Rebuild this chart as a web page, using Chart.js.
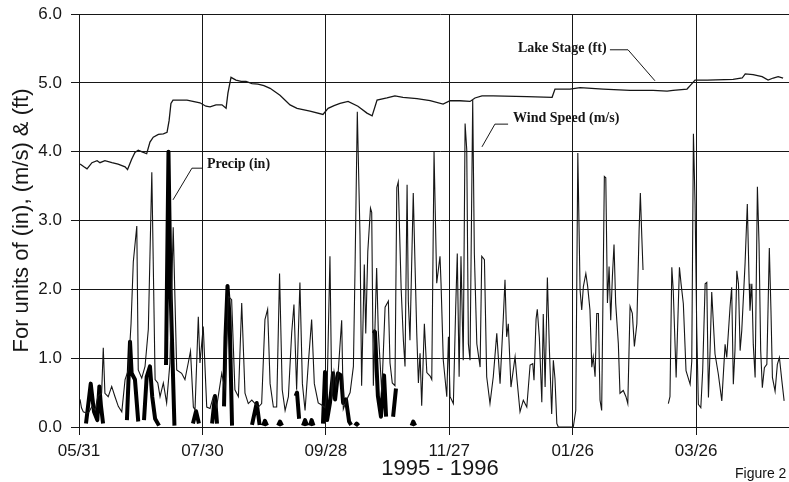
<!DOCTYPE html>
<html>
<head>
<meta charset="utf-8">
<script src="https://cdn.jsdelivr.net/npm/chart.js@4.4.1/dist/chart.umd.min.js"></script>
<style>
  html, body { margin: 0; padding: 0; background: #fff; overflow: hidden; }
  #wrap { position: relative; width: 789px; height: 482px; overflow: hidden; }
  #chart { display: block; }
  #fig { position: absolute; left: 735px; top: 465px; font: 14px "Liberation Sans", Arial, sans-serif; color: #111; white-space: nowrap; }
</style>
</head>
<body>
<div id="wrap">
  <canvas id="chart" width="801" height="482"></canvas>
  <div id="fig">Figure 2</div>
</div>
<script>
// days after 05/31/1995
var tickDays = [0, 60, 120, 180, 240, 300];
var tickLabels = ["05/31", "07/30", "09/28", "11/27", "01/26", "03/26"];

// wind speed (m/s), null = missing record
var windDay = [
  0.5, 1.2, 2.1, 3.7, 4.9, 6.3, 7.8, 9.2, 11.0, 11.8,
  12.6, 14.2, 15.9, 17.5, 19.1, 20.8, 22.4, 24.0, 25.3, 26.4,
  28.1, 28.8, 30.5, 32.1, 33.7, 35.4, 37.0, 38.3, 39.4, 41.0,
  42.6, 44.2, 45.8, 47.5, 49.9, 51.5, 53.1, 54.2, 55.6, 56.4,
  58.0, 58.8, 60.4, 62.1, 63.7, 65.3, 66.9, 69.4, 71.0, 72.6,
  74.2, 75.8, 77.5, 79.1, 80.7, 82.3, 84.0, 85.6, 87.2, 88.8,
  90.4, 91.7, 92.9, 94.5, 96.1, 97.5, 98.8, 100.2, 101.8, 103.4,
  104.5, 105.8, 107.4, 108.6, 109.9, 111.5, 113.1, 114.4, 116.3, 118.0,
  119.6, 120.6, 122.0, 122.9, 124.0, 125.0, 125.9, 127.7, 128.5, 130.2,
  131.8, 133.4, 134.2, 135.3, 136.6, 137.4, 138.7, 139.4, 140.4, 141.7,
  142.3, 143.1, 144.7, 145.5, 147.2, 148.8, 150.4, 151.2, 152.3, 153.6,
  154.5, 155.2, 156.6, 157.7, 158.5, 159.5, 160.1, 160.9, 162.5, 163.4,
  164.2, 165.0, 165.8, 166.6, 167.9, 169.1, 170.7, 171.5, 172.6, 173.9,
  175.5, 176.0, 177.1, 178.8, 179.6, 180.4, 182.0, 183.1, 183.9, 184.8,
  185.7, 186.8, 187.7, 188.5, 189.3, 190.1, 191.4, 192.2, 193.4, 195.0,
  195.8, 197.1, 198.2, 199.8, 201.4, 203.1, 204.7, 206.3, 207.1, 207.9,
  208.7, 210.0, 212.0, 212.8, 214.4, 216.0, 217.7, 219.3, 220.6, 221.2,
  222.2, 222.8, 223.8, 225.0, 225.7, 226.6, 227.7, 228.7, 229.8, 230.6,
  231.4, 232.3, 233.0, 240.3, 241.5, 242.5, 243.6, 244.4, 245.2, 246.4,
  247.3, 248.4, 249.3, 250.0, 250.9, 251.7, 252.5, 253.3, 254.1, 255.4,
  256.1, 256.9, 257.7, 258.5, 259.3, 260.1, 260.9, 262.2, 263.0, 264.6,
  265.9, 266.8, 267.9, 269.0, 270.0, 271.2, 272.3, 272.9, 273.6, 274.2,
  280.0, 286.5, 287.3, 288.2, 288.9, 290.3, 291.9, 292.7, 293.8, 295.1,
  297.1, 297.9, 298.7, 299.5, 300.3, 301.1, 302.3, 303.2, 304.4, 305.2,
  306.0, 306.8, 307.6, 309.2, 310.8, 312.5, 314.1, 314.9, 316.5, 317.3,
  318.1, 318.9, 319.8, 320.6, 321.4, 322.2, 323.8, 324.9, 325.8, 326.2,
  327.1, 327.8, 328.7, 329.8, 330.6, 331.4, 332.2, 333.2, 334.4, 335.6,
  336.4, 337.1, 338.4, 339.5, 340.5, 341.7, 342.8
];
var windMs = [
  0.4, 0.28, 0.22, 0.2, 0.22, 0.3, 0.25, 0.45, 0.49, 1.15,
  0.49, 0.44, 0.59, 0.44, 0.3, 0.22, 0.69, 0.83, 1.5, 2.4,
  2.92, 0.83, 0.71, 0.88, 1.42, 3.7, 0.69, 0.64, 0.44, 0.64,
  0.35, 0.93, 2.9, 0.83, 0.78, 0.69, 0.93, 1.1, 0.29, 0.25,
  1.6, 0.93, 1.46, 0.29, 0.27, 0.44, 0.29, 0.78, 0.54, 1.9,
  1.85, 0.54, 0.44, 1.8, 0.49, 0.34, 0.39, 0.34, 0.29, 0.34,
  1.56, 1.71, 0.63, 0.29, 0.29, 2.23, 0.54, 0.24, 0.44, 1.37,
  1.78, 0.54, 2.1, 0.63, 0.24, 0.93, 1.56, 0.63, 0.35, 0.32,
  0.28, 0.5, 2.48, 0.4, 0.8, 0.6, 0.75, 1.55, 0.26, 0.4,
  0.5, 0.88, 2.31, 4.58, 2.79, 0.6, 2.36, 1.36, 2.55, 3.18,
  3.12, 0.6, 2.31, 1.4, 0.5, 1.74, 1.83, 0.93, 0.64, 0.6,
  3.48, 3.56, 2.02, 1.26, 0.88, 3.52, 1.83, 1.26, 3.4, 2.31,
  1.36, 0.64, 1.07, 0.31, 1.5, 0.79, 0.74, 0.69, 4.0, 2.09,
  2.48, 2.09, 0.97, 0.44, 1.31, 0.44, 0.34, 1.7, 2.52, 0.73,
  2.48, 0.97, 4.41, 4.03, 1.21, 0.97, 4.75, 2.52, 1.21, 0.87,
  2.48, 2.43, 0.73, 0.34, 0.73, 1.36, 0.63, 1.6, 2.14, 1.31,
  1.5, 0.58, 1.02, 0.73, 0.22, 0.39, 0.29, 0.9, 0.92, 0.68,
  1.57, 1.71, 1.3, 0.36, 1.64, 0.58, 2.17, 1.11, 0.19, 0.97,
  0.7, 0.05, 0, 0, 0.24, 3.98, 1.99, 1.7, 2.04, 2.23,
  2.04, 1.7, 0.87, 1.02, 0.73, 1.65, 1.65, 0.39, 0.24, 3.64,
  3.62, 1.8, 2.33, 1.55, 2.18, 2.65, 1.8, 1.21, 0.49, 0.53,
  0.44, 0.34, 1.75, 1.65, 1.17, 1.5, 2.86, 3.4, 2.77, 2.28,
  null, 0.34, 0.44, 2.32, 1.98, 0.72, 2.32, 2.08, 1.79, 0.82,
  0.62, 0.96, 4.26, 3.24, 1.45, 0.33, 0.28, 0.82, 2.08, 2.1,
  0.43, 1.11, 1.96, 1.06, 0.77, 0.38, 1.2, 1.01, 1.74, 2.03,
  0.62, 1.11, 2.27, 2.08, 1.11, 1.4, 2.37, 3.24, 2.08, 1.69,
  2.08, 1.2, 0.72, 3.49, 2.66, 1.11, 0.57, 0.86, 0.91, 2.6,
  1.69, 0.72, 0.52, 0.91, 1.01, 0.67, 0.38
];

// lake stage (ft)
var lakeDay = [
  0.5, 2.4, 3.9, 6.3, 8.8, 10.2, 12.6, 16.0, 19.0, 22.4,
  23.6, 25.6, 27.2, 28.8, 31.3, 32.9, 34.5, 36.1, 38.6, 41.0,
  42.8, 43.8, 44.7, 45.7, 52.5, 58.8, 61.7, 63.7, 66.6, 69.5,
  71.5, 72.4, 73.9, 76.3, 78.8, 81.2, 84.1, 87.0, 89.9, 92.9,
  97.7, 102.6, 106.0, 112.3, 118.6, 121.1, 124.0, 126.9, 130.8, 135.6,
  140.0, 142.5, 144.9, 149.7, 153.6, 157.5, 164.3, 170.7, 177.0, 180.4,
  185.2, 190.1, 192.5, 195.9, 201.3, 217.8, 230.0, 231.4, 238.7, 243.6,
  254.8, 267.9, 279.1, 285.9, 288.8, 295.6, 297.1, 299.5, 305.4, 318.0,
  322.4, 323.9, 327.7, 332.1, 335.0, 337.5, 339.9, 342.3
];
var lakeFt = [
  3.82, 3.78, 3.75, 3.84, 3.87, 3.84, 3.87, 3.84, 3.82, 3.78,
  3.74, 3.89, 3.99, 4.02, 3.99, 3.97, 4.14, 4.21, 4.25, 4.26,
  4.28, 4.45, 4.7, 4.75, 4.75, 4.71, 4.66, 4.65, 4.68, 4.68,
  4.63, 4.85, 5.08, 5.04, 5.02, 5.02, 4.99, 4.98, 4.96, 4.92,
  4.82, 4.68, 4.63, 4.59, 4.54, 4.63, 4.67, 4.7, 4.73, 4.66,
  4.56, 4.52, 4.75, 4.78, 4.81, 4.79, 4.77, 4.74, 4.69, 4.74,
  4.74, 4.73, 4.78, 4.81, 4.81, 4.8, 4.79, 4.91, 4.91, 4.93,
  4.91, 4.89, 4.89, 4.88, 4.89, 4.91, 4.96, 5.04, 5.04, 5.05,
  5.07, 5.13, 5.12, 5.09, 5.04, 5.07, 5.09, 5.07
];

// precipitation (in), null separates rain events
var precipDay = [
  3.4, 4.4, 5.7, 7.3, 8.9, 9.9, 10.7, 11.7, 17,
  23.3, 24.8, 25.6, 27.2, 28.8, 30,
  31.6, 32.9, 34.5, 35.6, 37.0, 38.9, 40,
  42.3, 43.5, 44.5, 46.4, 50,
  55.4, 56.9, 58.3, 60,
  64.7, 66.1, 67.1, 69,
  70.5, 71.2, 72.2, 73.2, 74.4, 80,
  84.1, 86.4, 87.8, 88.7,
  89.5, 90.4, 91.4, 94,
  96.8, 97.7, 98.7, 102,
  105.3, 106.0, 107.0, 108,
  108.9, 109.9, 110.9, 111.6,
  112.3, 113.1, 114.0, 116,
  118.6, 119.6, 120.6, 122.0, 123.5, 124.5, 125.9, 127.4, 128.4, 129.8, 131.3, 132.3, 133,
  134.2, 135.0, 135.9, 140,
  142.9, 143.9, 145.3, 146.8, 148.3, 149.3, 151,
  152.7, 154.1, 158,
  161.7, 162.5, 163.4
];
var precipIn = [
  0.05, 0.3, 0.63, 0.22, 0.1, 0.59, 0.3, 0.05, null,
  0.1, 1.24, 0.78, 0.69, 0.08, null,
  0.1, 0.73, 0.88, 0.44, 0.12, 0.02, null,
  0.9, 4.0, 2.0, 0.02, null,
  0.05, 0.23, 0.05, null,
  0.05, 0.45, 0.05, null,
  0.3, 1.3, 2.05, 1.6, 0.02, null,
  0.03, 0.35, 0.03, null,
  0.02, 0.09, 0.02, null,
  0.02, 0.08, 0.02, null,
  0.45, 0.5, 0.12, null,
  0.02, 0.1, 0.02, null,
  0.02, 0.1, 0.02, null,
  0.05, 0.8, 0.1, 0.35, 0.78, 0.4, 0.78, 0.75, 0.35, 0.4, 0.08, 0.03, null,
  0.02, 0.05, 0.02, null,
  1.4, 1.38, 0.45, 0.15, 0.75, 0.15, null,
  0.15, 0.56, null,
  0.02, 0.08, 0.02
];

// callout labels: text start and leader line, in data units (day, value)
var callouts = [
  { text: "Lake Stage (ft)", at: [213.4, 5.5], leader: [[258.1, 5.48], [266.9, 5.48], [280, 5.03]] },
  { text: "Wind Speed (m/s)", at: [211, 4.49], leader: [[208.6, 4.4], [202.2, 4.4], [195.9, 4.07]] },
  { text: "Precip (in)", at: [62.2, 3.82], leader: [[59.8, 3.76], [54.9, 3.76], [45.7, 3.3]] }
];

function toPoints(days, vals) {
  return days.map(function (d, i) { return { x: d, y: vals[i] }; });
}

var ink = "#161616";
var sansFont = "'Liberation Sans', Arial, sans-serif";

// draws the text callouts with their leader lines
var calloutPlugin = {
  id: "callouts",
  afterDatasetsDraw: function (chart) {
    var c = chart.ctx, xs = chart.scales.x, ys = chart.scales.y;
    c.save();
    c.strokeStyle = ink;
    c.lineWidth = 1;
    c.fillStyle = ink;
    c.font = "bold 14px 'Liberation Serif', 'Times New Roman', serif";
    c.textBaseline = "middle";
    c.textAlign = "left";
    callouts.forEach(function (co) {
      c.beginPath();
      co.leader.forEach(function (p, i) {
        var px = xs.getPixelForValue(p[0]), py = ys.getPixelForValue(p[1]);
        if (i === 0) c.moveTo(px, py); else c.lineTo(px, py);
      });
      c.stroke();
      c.fillText(co.text, xs.getPixelForValue(co.at[0]), ys.getPixelForValue(co.at[1]));
    });
    c.restore();
  }
};

const ctx = document.getElementById("chart").getContext("2d");
const chart = new Chart(ctx, {
  type: "line",
  data: {
    datasets: [
      {
        label: "Wind Speed (m/s)",
        data: toPoints(windDay, windMs),
        borderColor: ink,
        borderWidth: 1.1,
        pointRadius: 0,
        tension: 0,
        spanGaps: false,
      },
      {
        label: "Lake Stage (ft)",
        data: toPoints(lakeDay, lakeFt),
        borderColor: ink,
        borderWidth: 1.3,
        pointRadius: 0,
        tension: 0,
      },
      {
        label: "Precip (in)",
        data: toPoints(precipDay, precipIn),
        borderColor: "#000",
        borderWidth: 4,
        borderJoinStyle: "round",
        pointRadius: 0,
        tension: 0,
        spanGaps: false,
      },
    ],
  },
  options: {
    responsive: false,
    animation: false,
    layout: { padding: { top: 14, right: 0, bottom: 0, left: 0 } },
    plugins: { legend: { display: false }, tooltip: { enabled: false } },
    scales: {
      x: {
        type: "linear",
        min: 0,
        max: 351,
        grid: { color: ink, lineWidth: 1, tickLength: 8 },
        border: { color: ink },
        ticks: {
          padding: 6,
          color: ink,
          font: { family: sansFont, size: 17 },
          maxRotation: 0,
          callback: function (v) {
            var i = tickDays.indexOf(v);
            return i >= 0 ? tickLabels[i] : "";
          },
        },
        afterBuildTicks: function (scale) {
          scale.ticks = tickDays.map(function (d) { return { value: d }; });
        },
        afterFit: function (scale) {
          scale.height = 55;
          scale.paddingLeft = 0;
          scale.paddingRight = 0;
        },
        title: {
          display: true,
          text: "1995 - 1996",
          color: ink,
          font: { family: sansFont, size: 22 },
          padding: { top: 0, bottom: 0 },
        },
      },
      y: {
        min: 0,
        max: 6,
        grid: { color: ink, lineWidth: 1, tickLength: 8 },
        border: { color: ink },
        ticks: {
          stepSize: 1,
          padding: 9,
          color: ink,
          font: { family: sansFont, size: 17 },
          callback: function (v) { return v.toFixed(1); },
        },
        afterFit: function (scale) {
          scale.width = 79;
          scale.paddingTop = 0;
          scale.paddingBottom = 0;
        },
        title: {
          display: true,
          text: "For units of (in), (m/s) & (ft)",
          color: ink,
          font: { family: sansFont, size: 22 },
          padding: { top: 9, bottom: 0 },
        },
      },
    },
  },
  plugins: [calloutPlugin],
});
</script>
</body>
</html>
